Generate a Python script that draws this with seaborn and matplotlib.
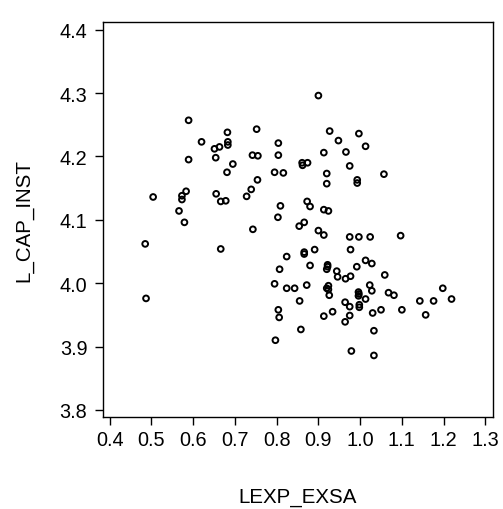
import matplotlib
matplotlib.use("Agg")
import matplotlib.pyplot as plt
import seaborn as sns
import pandas as pd

lexp_exsa = [0.900, 0.589, 0.752, 0.682, 0.927, 0.997, 0.620, 0.948, 0.683, 0.683,
             0.804, 1.013, 0.663, 0.651, 0.966, 0.913, 0.654, 0.742, 0.755, 0.804,
             0.589, 0.695, 0.861, 0.862, 0.874, 0.975, 0.681, 0.795, 0.816, 0.920,
             1.057, 0.754, 0.993, 0.993, 0.920, 0.583, 0.739, 0.504, 0.573, 0.573,
             0.655, 0.728, 0.666, 0.678, 0.873, 0.809, 0.880, 0.566, 0.913, 0.924,
             0.579, 0.803, 0.866, 0.854, 0.743, 0.900, 0.913, 0.975, 0.997, 1.024,
             1.097, 0.485, 0.666, 0.891, 0.977, 0.866, 0.866, 0.824, 1.013, 1.028,
             0.922, 0.922, 0.920, 0.880, 0.992, 0.807, 0.944, 1.059, 0.977, 0.946,
             0.965, 0.795, 0.872, 1.023, 0.924, 0.920, 0.924, 0.824, 0.843, 1.198,
             1.028, 0.996, 0.997, 0.996, 1.068, 1.081, 0.926, 1.013, 1.219, 0.855,
             1.143, 1.176, 0.964, 0.998, 0.998, 0.975, 0.804, 1.050, 1.100, 0.934,
             1.030, 1.157, 0.806, 0.913, 0.975, 0.964, 0.858, 1.033, 0.797, 0.979,
             1.033, 0.487]
l_cap_inst = [4.296, 4.257, 4.243, 4.238, 4.240, 4.236, 4.223, 4.225, 4.223, 4.218,
              4.221, 4.216, 4.215, 4.212, 4.207, 4.206, 4.198, 4.202, 4.201, 4.202,
              4.195, 4.188, 4.190, 4.186, 4.190, 4.185, 4.175, 4.175, 4.174, 4.173,
              4.172, 4.163, 4.163, 4.158, 4.157, 4.145, 4.148, 4.136, 4.138, 4.132,
              4.141, 4.137, 4.129, 4.130, 4.129, 4.122, 4.121, 4.114, 4.116, 4.114,
              4.096, 4.104, 4.096, 4.090, 4.085, 4.083, 4.076, 4.073, 4.073, 4.073,
              4.075, 4.062, 4.054, 4.053, 4.053, 4.049, 4.046, 4.042, 4.036, 4.031,
              4.029, 4.026, 4.022, 4.028, 4.026, 4.022, 4.019, 4.013, 4.011, 4.010,
              4.007, 3.999, 3.997, 3.997, 3.996, 3.992, 3.990, 3.992, 3.992, 3.992,
              3.988, 3.986, 3.983, 3.980, 3.985, 3.981, 3.981, 3.975, 3.975, 3.972,
              3.972, 3.972, 3.970, 3.966, 3.962, 3.963, 3.958, 3.958, 3.958, 3.955,
              3.953, 3.950, 3.946, 3.948, 3.949, 3.939, 3.927, 3.925, 3.910, 3.893,
              3.886, 3.976]

x_ticks = [0.4, 0.5, 0.6, 0.7, 0.8, 0.9, 1.0, 1.1, 1.2, 1.3]
y_ticks = [3.8, 3.9, 4.0, 4.1, 4.2, 4.3, 4.4]

df = pd.DataFrame({"LEXP_EXSA": lexp_exsa, "L_CAP_INST": l_cap_inst})

sns.set_style("ticks")
plt.rcParams["font.family"] = ["Liberation Sans", "DejaVu Sans"]
plt.rcParams["text.color"] = "black"
plt.rcParams["axes.labelcolor"] = "black"
plt.rcParams["xtick.color"] = "black"
plt.rcParams["ytick.color"] = "black"

fig = plt.figure(figsize=(5.03, 5.10), dpi=100)
ax = fig.add_axes([0.2042, 0.1798, 0.7753, 0.7745])

sns.scatterplot(data=df, x="LEXP_EXSA", y="L_CAP_INST", ax=ax,
                marker="o", s=17, facecolor="none", edgecolor="black",
                linewidth=1.4)

ax.set_xlim(0.3832, 1.3176)
ax.set_ylim(3.7884, 4.4116)
ax.set_xticks(x_ticks)
ax.set_xticklabels([f"{v:.1f}" for v in x_ticks])
ax.set_yticks(y_ticks)
ax.set_yticklabels([f"{v:.1f}" for v in y_ticks])

for sp in ax.spines.values():
    sp.set_visible(True)
    sp.set_color("black")
    sp.set_linewidth(1.0)

ax.tick_params(axis="both", direction="out", length=5.5, width=1.0,
               colors="black", labelcolor="black", labelsize=14.3)
ax.tick_params(axis="x", pad=4)
ax.tick_params(axis="y", pad=5.5)

ax.set_xlabel("LEXP_EXSA", fontsize=14.8, labelpad=27, color="black")
ax.set_ylabel("L_CAP_INST", fontsize=14.8, labelpad=19, color="black")

fig.savefig("out.png", dpi=100, facecolor="white")
